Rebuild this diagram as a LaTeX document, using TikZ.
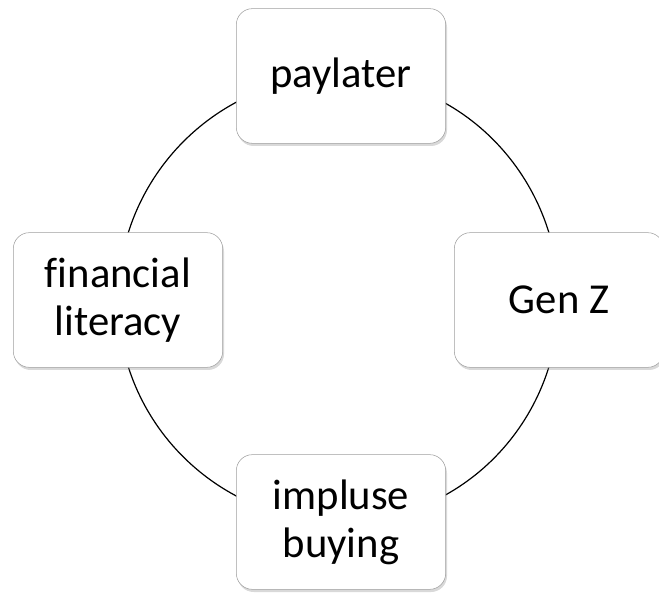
\documentclass[tikz,border=0pt]{standalone}
\usepackage{fontspec}
\setmainfont{Carlito}[Ligatures=NoCommon]
\usetikzlibrary{shadows,backgrounds}

\begin{document}
\begin{tikzpicture}[x=0.75pt,y=0.75pt,
        item/.style={draw=gray!75,fill=white,rounded corners=12pt,
            minimum width=157pt,minimum height=101pt,align=center,
            font=\fontsize{32}{36}\selectfont,
            drop shadow={opacity=0.3,shadow xshift=1pt,shadow yshift=-2pt}},
        ring/.style={line width=0.9pt}
    ]
    \useasboundingbox (0,0) rectangle (659,592);

    % --- Stages of the cycle ---
    \node[item] (pay) at (341,516) {paylater};
    \node[item] (genz) at (559,292) {Gen Z};
    \node[item] (imp) at (341,70) {impluse\\buying};
    \node[item] (fin) at (118,292) {financial\\literacy};

    % --- Ring behind the boxes ---
    \begin{scope}[on background layer]
        \draw[ring] (pay.center) to[out=0,in=90] (genz.center);
        \draw[ring] (genz.center) to[out=-90,in=0] (imp.center);
        \draw[ring] (imp.center) to[out=180,in=-90] (fin.center);
        \draw[ring] (fin.center) to[out=90,in=180] (pay.center);
    \end{scope}

\end{tikzpicture}
\end{document}
